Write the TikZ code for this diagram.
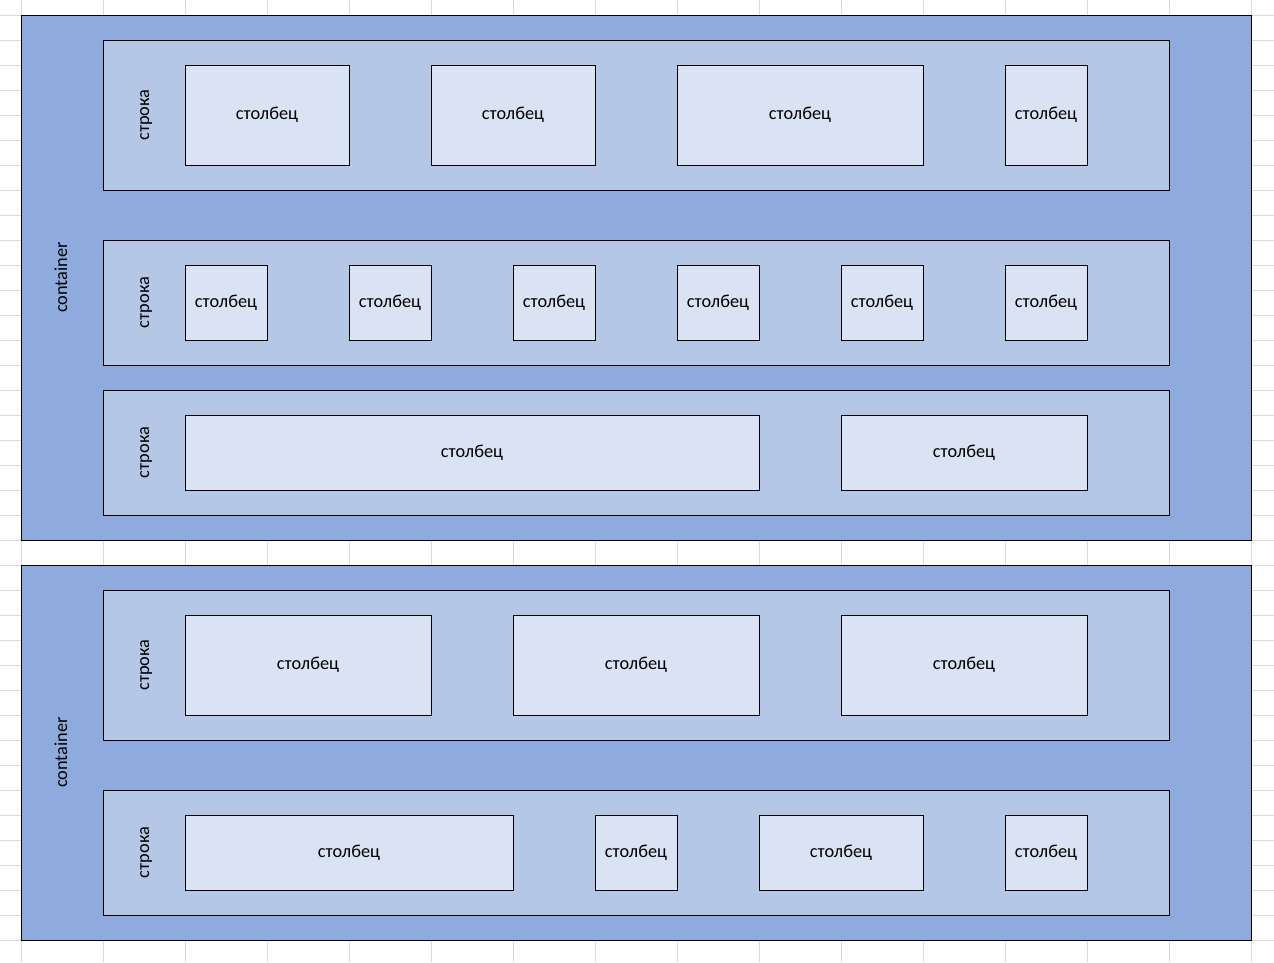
\documentclass[tikz,border=0pt]{standalone}
\usepackage{fontspec}
\setmainfont{Carlito}

\definecolor{contblue}{HTML}{8FAADC}
\definecolor{rowblue}{HTML}{B4C7E7}
\definecolor{colblue}{HTML}{DAE3F3}
\definecolor{gridgray}{HTML}{DADADA}

\tikzset{
  cell font/.style={font=\fontsize{18.3}{22}\selectfont, text depth=0pt},
  contbox/.style={draw=black, fill=contblue, line width=0.9pt, minimum width=1230pt},
  rowbox/.style={draw=black, fill=rowblue, line width=0.9pt, minimum width=1066pt},
  colbox/.style={draw=black, fill=colblue, line width=0.9pt, cell font, text height=0.92em, inner sep=0pt},
  sidelabel/.style={rotate=90, cell font, text height=0.8em, inner sep=0pt}
}

\begin{document}
\begin{tikzpicture}[x=1pt,y=-1pt]
            % Page size of the sheet
            \useasboundingbox (0,0) rectangle (1274,962);
            \fill[white] (0,0) rectangle (1274,962);

            % Draw sheet grid lines
            \foreach \x in {21,103,...,1251}
                \draw[gridgray,line width=1pt] (\x,0) -- (\x,962);
            \foreach \y in {15,40,...,940}
                \draw[gridgray,line width=1pt] (0,\y) -- (1274,\y);

            % Draw containers
            \node[contbox, minimum height=525pt] (cont1) at (636,277.5) {};
            \node[contbox, minimum height=375pt] (cont2) at (636,752.5) {};
            \node[sidelabel] (contlab1) at (63,277.5) {container};
            \node[sidelabel] (contlab2) at (63,752.5) {container};

            % Draw rows
            \node[rowbox, minimum height=150pt] (row1) at (636,115) {};
            \node[rowbox, minimum height=125pt] (row2) at (636,302.5) {};
            \node[rowbox, minimum height=125pt] (row3) at (636,452.5) {};
            \node[rowbox, minimum height=150pt] (row4) at (636,665) {};
            \node[rowbox, minimum height=125pt] (row5) at (636,852.5) {};
            \node[sidelabel] (rowlab1) at (145,115) {строка};
            \node[sidelabel] (rowlab2) at (145,302.5) {строка};
            \node[sidelabel] (rowlab3) at (145,452.5) {строка};
            \node[sidelabel] (rowlab4) at (145,665) {строка};
            \node[sidelabel] (rowlab5) at (145,852.5) {строка};

            % Draw columns of row 1
            \node[colbox, minimum width=164pt, minimum height=100pt] (col11) at (267,115) {столбец};
            \node[colbox, minimum width=164pt, minimum height=100pt] (col12) at (513,115) {столбец};
            \node[colbox, minimum width=246pt, minimum height=100pt] (col13) at (800,115) {столбец};
            \node[colbox, minimum width=82pt, minimum height=100pt] (col14) at (1046,115) {столбец};

            % Draw columns of row 2
            \node[colbox, minimum width=82pt, minimum height=75pt] (col21) at (226,302.5) {столбец};
            \node[colbox, minimum width=82pt, minimum height=75pt] (col22) at (390,302.5) {столбец};
            \node[colbox, minimum width=82pt, minimum height=75pt] (col23) at (554,302.5) {столбец};
            \node[colbox, minimum width=82pt, minimum height=75pt] (col24) at (718,302.5) {столбец};
            \node[colbox, minimum width=82pt, minimum height=75pt] (col25) at (882,302.5) {столбец};
            \node[colbox, minimum width=82pt, minimum height=75pt] (col26) at (1046,302.5) {столбец};

            % Draw columns of row 3
            \node[colbox, minimum width=574pt, minimum height=75pt] (col31) at (472,452.5) {столбец};
            \node[colbox, minimum width=246pt, minimum height=75pt] (col32) at (964,452.5) {столбец};

            % Draw columns of row 4
            \node[colbox, minimum width=246pt, minimum height=100pt] (col41) at (308,665) {столбец};
            \node[colbox, minimum width=246pt, minimum height=100pt] (col42) at (636,665) {столбец};
            \node[colbox, minimum width=246pt, minimum height=100pt] (col43) at (964,665) {столбец};

            % Draw columns of row 5
            \node[colbox, minimum width=328pt, minimum height=75pt] (col51) at (349,852.5) {столбец};
            \node[colbox, minimum width=82pt, minimum height=75pt] (col52) at (636,852.5) {столбец};
            \node[colbox, minimum width=164pt, minimum height=75pt] (col53) at (841,852.5) {столбец};
            \node[colbox, minimum width=82pt, minimum height=75pt] (col54) at (1046,852.5) {столбец};
\end{tikzpicture}
\end{document}
